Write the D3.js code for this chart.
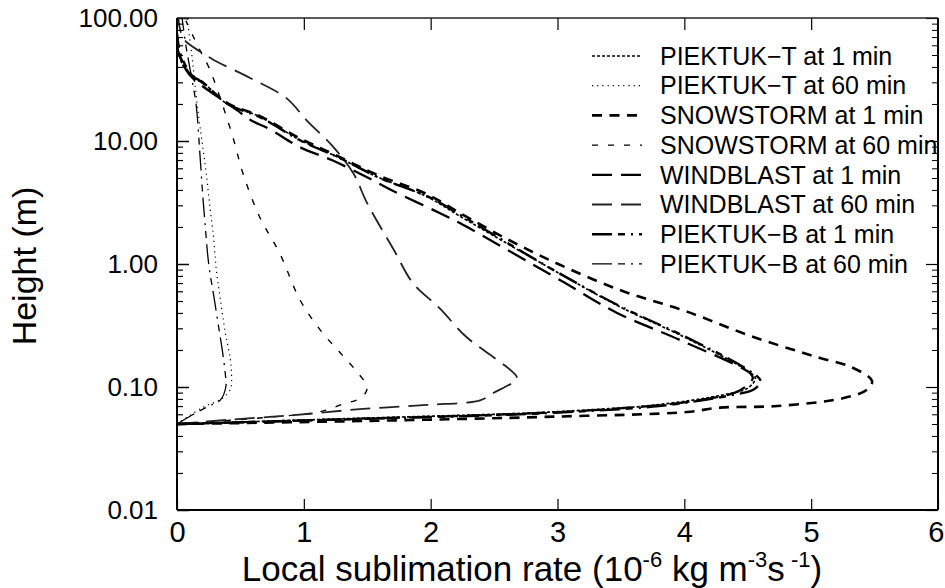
<!DOCTYPE html>
<html>
<head>
<meta charset="utf-8">
<script src="https://cdn.jsdelivr.net/npm/d3@7/dist/d3.min.js"></script>
<style>
  html, body { margin: 0; padding: 0; background: #fff; }
  svg { display: block; }
  text { font-family: "Liberation Sans", Arial, Helvetica, sans-serif; fill: #000; }
</style>
</head>
<body>
<svg id="chart" width="945" height="588"></svg>
<script>
// Local sublimation rate profiles (10^-6 kg m^-3 s^-1) against height (m)
const seriesNames = [
  "PIEKTUK\u2212T at 1 min", "PIEKTUK\u2212T at 60 min",
  "SNOWSTORM at 1 min", "SNOWSTORM at 60 min",
  "WINDBLAST at 1 min", "WINDBLAST at 60 min",
  "PIEKTUK\u2212B at 1 min", "PIEKTUK\u2212B at 60 min"
];

const piektukT1Rate   = [0, 1.44, 2.70, 3.23, 3.75, 4.30, 4.50, 4.56, 4.49, 4.02, 3.49, 2.97, 2.23, 1.97, 1.575, 1.26, 0.97, 0.65, 0.39, 0.18, 0.116, 0.024, 0];
const piektukT1Height = [0.05, 0.0557, 0.061, 0.065, 0.071, 0.086, 0.098, 0.118, 0.137, 0.249, 0.45, 0.89, 2.45, 3.53, 5.13, 7.45, 10.2, 15.8, 20.2, 31.4, 33, 47, 70];

const piektukT60Rate   = [0, 0.2, 0.35, 0.42, 0.43, 0.42, 0.38, 0.34, 0.31, 0.29, 0.26, 0.23, 0.2, 0.17, 0.14, 0.12, 0.08];
const piektukT60Height = [0.05, 0.068, 0.08, 0.095, 0.125, 0.17, 0.28, 0.53, 0.9, 1.57, 2.9, 5.5, 9.5, 16, 30, 47, 100];

const snowstorm1Rate   = [0, 1.5, 2.97, 4.02, 4.28, 4.73, 5.25, 5.44, 5.48, 5.31, 5.07, 4.94, 4.54, 4.02, 3.49, 2.97, 2.6, 2.23, 1.97, 1.58, 1.26, 0.97, 0.65, 0.39, 0.2, 0.12, 0.02, 0];
const snowstorm1Height = [0.05, 0.053, 0.0574, 0.0626, 0.068, 0.070, 0.081, 0.095, 0.112, 0.146, 0.172, 0.189, 0.256, 0.41, 0.615, 1.04, 1.6, 2.6, 3.7, 5.3, 7.6, 10.5, 16, 20.5, 30, 33, 50, 70];

const snowstorm60Rate   = [0, 0.65, 1.13, 1.29, 1.46, 1.50, 1.44, 1.29, 1.13, 0.97, 0.81, 0.65, 0.52, 0.44, 0.31, 0.25, 0.2, 0.13, 0.07];
const snowstorm60Height = [0.05, 0.056, 0.063, 0.0715, 0.083, 0.10, 0.125, 0.188, 0.29, 0.51, 1.22, 2.43, 5.46, 10.8, 27.6, 40, 50, 70, 95];

const windblast1Rate   = [0, 1.4, 2.7, 3.4, 4.0, 4.40, 4.48, 4.54, 4.52, 3.97, 3.47, 3.04, 2.23, 2.07, 1.72, 1.51, 1.22, 0.97, 0.73, 0.58, 0.47, 0.2, 0.13, 0.03, 0];
const windblast1Height = [0.05, 0.055, 0.0605, 0.066, 0.075, 0.09, 0.10, 0.118, 0.129, 0.24, 0.40, 0.72, 2.15, 2.6, 3.85, 5.0, 7.0, 8.9, 12.5, 14.8, 17.9, 28, 32, 45, 60];

const windblast60Rate   = [0, 0.39, 0.92, 1.44, 1.97, 2.39, 2.49, 2.68, 2.63, 2.49, 2.28, 2.07, 1.86, 1.71, 1.50, 1.39, 1.23, 1.02, 0.865, 0.58, 0.29, 0.2, 0.05, 0.01];
const windblast60Height = [0.05, 0.054, 0.059, 0.066, 0.0715, 0.078, 0.089, 0.118, 0.137, 0.176, 0.256, 0.437, 0.70, 1.30, 3.11, 5.46, 9.0, 14.8, 22.2, 32.4, 45.6, 52, 68, 100];

const piektukB1Rate   = [0, 1.4, 2.6, 3.2, 3.8, 4.35, 4.55, 4.60, 4.50, 4.03, 3.50, 2.98, 2.25, 2.0, 1.6, 1.28, 0.98, 0.66, 0.40, 0.20, 0.12, 0.03, 0];
const piektukB1Height = [0.05, 0.0548, 0.0595, 0.0635, 0.070, 0.085, 0.096, 0.112, 0.138, 0.25, 0.45, 0.88, 2.45, 3.45, 5.0, 7.3, 10.0, 15.5, 20, 30, 34, 50, 75];

const piektukB60Rate   = [0, 0.13, 0.25, 0.34, 0.385, 0.38, 0.36, 0.33, 0.29, 0.25, 0.22, 0.2, 0.18, 0.15, 0.11, 0.07, 0.04];
const piektukB60Height = [0.05, 0.06, 0.07, 0.078, 0.1, 0.13, 0.19, 0.3, 0.55, 1.0, 2.2, 4, 8, 20, 35, 60, 100];

const xTickValues = [0, 1, 2, 3, 4, 5, 6];
const yTickValues = [0.01, 0.1, 1, 10, 100];

// line styles, one per series
const styles = [
  { dash: "3,2",            width: 1.7, color: "#000" },
  { dash: "1.2,4",          width: 1.2, color: "#000" },
  { dash: "10,7.5",         width: 2.6, color: "#000" },
  { dash: "6,10",           width: 1.4, color: "#000" },
  { dash: "20,9",           width: 2.3, color: "#000" },
  { dash: "20,9",           width: 1.8, color: "#222" },
  { dash: "20,6,7,6,2,6",   width: 2.4, color: "#000" },
  { dash: "20,6,7,6,2,6",   width: 1.3, color: "#000" }
];

const rates = [piektukT1Rate, piektukT60Rate, snowstorm1Rate, snowstorm60Rate, windblast1Rate, windblast60Rate, piektukB1Rate, piektukB60Rate];
const heights = [piektukT1Height, piektukT60Height, snowstorm1Height, snowstorm60Height, windblast1Height, windblast60Height, piektukB1Height, piektukB60Height];

const svg = d3.select("#chart");
const plotLeft = 177, plotRight = 938, plotTop = 18, plotBottom = 510;

const x = d3.scaleLinear().domain([0, 6]).range([plotLeft, plotRight]);
const y = d3.scaleLog().domain([0.01, 100]).range([plotBottom, plotTop]);

const minorTicks = [];
for (let d = 0.01; d < 100; d *= 10) {
  for (let k = 2; k <= 9; k++) minorTicks.push(+(d * k).toPrecision(3));
}

const plot = svg.append("g");
plot.append("clipPath").attr("id", "clip")
  .append("rect").attr("x", plotLeft).attr("y", plotTop - 2)
  .attr("width", plotRight - plotLeft).attr("height", plotBottom - plotTop + 2);

// profiles
const line = d3.line()
  .x(d => x(d[0]))
  .y(d => y(d[1]))
  .curve(d3.curveCatmullRom.alpha(0.5));

const curves = plot.append("g").attr("clip-path", "url(#clip)");
seriesNames.forEach((name, i) => {
  const pts = rates[i].map((r, j) => [r, heights[i][j]]);
  curves.append("path")
    .attr("d", line(pts))
    .attr("fill", "none")
    .attr("stroke", styles[i].color)
    .attr("stroke-width", styles[i].width)
    .attr("stroke-dasharray", styles[i].dash)
    .attr("stroke-linejoin", "round");
});

// axes
function styleAxis(g, width) {
  g.select(".domain").remove();
  g.selectAll(".tick line").attr("stroke", "#000").attr("stroke-width", width);
}

const yAxis = svg.append("g").attr("transform", `translate(${plotLeft},0)`)
  .call(d3.axisLeft(y).tickValues(yTickValues).tickFormat(d3.format(".2f"))
    .tickSizeInner(-12).tickSizeOuter(0).tickPadding(19));
styleAxis(yAxis, 1.5);
yAxis.selectAll("text").attr("font-size", 26).attr("font-family", null);

const yMinor = svg.append("g").attr("transform", `translate(${plotLeft},0)`)
  .call(d3.axisLeft(y).tickValues(minorTicks).tickFormat("").tickSizeInner(-6).tickSizeOuter(0));
styleAxis(yMinor, 1.2);

const yRight = svg.append("g").attr("transform", `translate(${plotRight},0)`)
  .call(d3.axisRight(y).tickValues(yTickValues).tickFormat("").tickSizeInner(-12).tickSizeOuter(0));
styleAxis(yRight, 1.2);
const yRightMinor = svg.append("g").attr("transform", `translate(${plotRight},0)`)
  .call(d3.axisRight(y).tickValues(minorTicks).tickFormat("").tickSizeInner(-6).tickSizeOuter(0));
styleAxis(yRightMinor, 1);

const xAxis = svg.append("g").attr("transform", `translate(0,${plotBottom})`)
  .call(d3.axisBottom(x).tickValues(xTickValues).tickFormat(d3.format("d"))
    .tickSizeInner(-11).tickSizeOuter(0).tickPadding(11));
styleAxis(xAxis, 1.2);
xAxis.selectAll("text").attr("font-size", 29).attr("font-family", null);
// the last label sits against the page edge: keep it inside
xAxis.selectAll(".tick").filter(d => d === 6).select("text")
  .attr("text-anchor", "end").attr("dx", 6);

const xTop = svg.append("g").attr("transform", `translate(0,${plotTop})`)
  .call(d3.axisTop(x).tickValues(xTickValues.slice(1, -1)).tickFormat("").tickSizeInner(-12).tickSizeOuter(0));
styleAxis(xTop, 1.2);

// frame
svg.append("line").attr("x1", plotLeft).attr("x2", plotRight).attr("y1", plotTop).attr("y2", plotTop)
  .attr("stroke", "#222").attr("stroke-width", 1.5);
svg.append("line").attr("x1", plotLeft).attr("x2", plotRight).attr("y1", plotBottom).attr("y2", plotBottom)
  .attr("stroke", "#000").attr("stroke-width", 2);
svg.append("line").attr("x1", plotLeft).attr("x2", plotLeft).attr("y1", plotTop).attr("y2", plotBottom)
  .attr("stroke", "#000").attr("stroke-width", 2);
svg.append("line").attr("x1", plotRight).attr("x2", plotRight).attr("y1", plotTop).attr("y2", plotBottom)
  .attr("stroke", "#000").attr("stroke-width", 2);

// legend
const legend = svg.append("g");
seriesNames.forEach((name, i) => {
  const ly = 56 + i * 29.7;
  legend.append("line")
    .attr("x1", 592).attr("x2", 642).attr("y1", ly).attr("y2", ly)
    .attr("stroke", styles[i].color)
    .attr("stroke-width", styles[i].width)
    .attr("stroke-dasharray", styles[i].dash);
  legend.append("text")
    .attr("x", 660).attr("y", ly).attr("dy", "0.35em")
    .attr("font-size", 25)
    .text(name);
});

// axis titles
const xt = svg.append("text")
  .attr("x", 532).attr("y", 581)
  .attr("text-anchor", "middle")
  .attr("font-size", 35);
xt.append("tspan").text("Local sublimation rate (10");
xt.append("tspan").attr("dy", -14).attr("font-size", 22).text("-6");
xt.append("tspan").attr("dy", 14).text(" kg m");
xt.append("tspan").attr("dy", -14).attr("font-size", 22).text("-3");
xt.append("tspan").attr("dy", 14).text("s");
xt.append("tspan").attr("dy", -14).attr("font-size", 22).text(" -1");
xt.append("tspan").attr("dy", 14).text(")");

svg.append("text")
  .attr("transform", "translate(36,266) rotate(-90)")
  .attr("text-anchor", "middle")
  .attr("font-size", 34)
  .text("Height (m)");
</script>
</body>
</html>
